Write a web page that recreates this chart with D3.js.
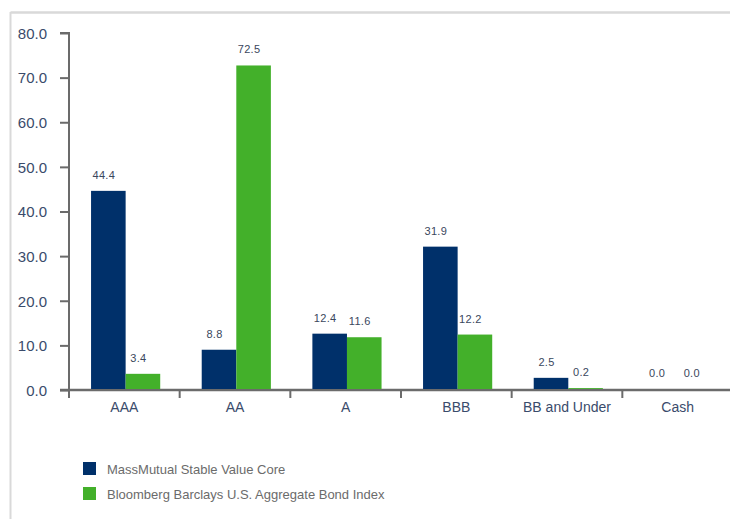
<!DOCTYPE html>
<html>
<head>
<meta charset="utf-8">
<script src="https://cdn.jsdelivr.net/npm/d3@7"></script>
<style>
  html, body { margin: 0; padding: 0; background: #fff; }
  svg { display: block; }
  text { font-family: "Liberation Sans", Arial, sans-serif; }
</style>
</head>
<body>
<svg id="chart" width="730" height="519"></svg>
<script>
const categories = ["AAA", "AA", "A", "BBB", "BB and Under", "Cash"];
const seriesNames = ["MassMutual Stable Value Core", "Bloomberg Barclays U.S. Aggregate Bond Index"];
const massMutual = [44.4, 8.8, 12.4, 31.9, 2.5, 0.0];
const bloomberg = [3.4, 72.5, 11.6, 12.2, 0.2, 0.0];
const yTicks = [0, 10, 20, 30, 40, 50, 60, 70, 80];
const colors = ["#00306a", "#43b02a"];

const svg = d3.select("#chart");
const W = 730, H = 519;

// frame
svg.append("line").attr("x1", 10.5).attr("x2", W).attr("y1", 12.5).attr("y2", 12.5)
  .attr("stroke", "#d9d9d9").attr("stroke-width", 2.5);
svg.append("line").attr("x1", 10.5).attr("x2", 10.5).attr("y1", 12).attr("y2", H)
  .attr("stroke", "#d9d9d9").attr("stroke-width", 2);

const x0 = 69, x1 = 733, yTop = 33, yBot = 390;
const x = d3.scaleBand().domain(categories).range([x0, x1]).padding(0);
const xs = d3.scaleBand().domain([0, 1]).range([0, x.bandwidth()]).paddingInner(0).paddingOuter(0.6);
const y = d3.scaleLinear().domain([0, 80]).range([yBot, yTop]);

const data = categories.map((c, i) => ({ cat: c, vals: [massMutual[i], bloomberg[i]] }));

// x axis
const xAxis = d3.axisBottom(x).tickSize(0).tickPadding(12);
const xa = svg.append("g").attr("transform", `translate(0,${yBot})`).call(xAxis);
xa.select(".domain").attr("stroke", "#6b6b6b").attr("stroke-width", 2.5).attr("d", `M${x0 - 9},0H${W}`);
xa.selectAll(".tick text").attr("font-size", 14).attr("fill", "#3a4b6b")
  .attr("font-family", "'Liberation Sans', Arial, sans-serif");
xa.selectAll("line.sep").data(categories).join("line").attr("class", "sep")
  .attr("x1", d => x(d)).attr("x2", d => x(d)).attr("y1", 0).attr("y2", 8)
  .attr("stroke", "#6b6b6b").attr("stroke-width", 2);

// y axis
const yAxis = d3.axisLeft(y).tickValues(yTicks).tickSize(9).tickPadding(13).tickFormat(d3.format(".1f"));
const ya = svg.append("g").attr("transform", `translate(${x0},0)`).call(yAxis);
ya.select(".domain").attr("stroke", "#6b6b6b").attr("stroke-width", 2).attr("d", `M-9,${yTop}H0V${yBot}`);
ya.selectAll(".tick line").attr("stroke", "#6b6b6b").attr("stroke-width", 2);
ya.selectAll(".tick text").attr("font-size", 15).attr("fill", "#3a4b6b")
  .attr("font-family", "'Liberation Sans', Arial, sans-serif").attr("dy", "0.35em");

// bars (drawn over the axis line)
const g = svg.append("g");
const groups = g.selectAll("g.grp").data(data).join("g")
  .attr("transform", d => `translate(${x(d.cat) + 1.3},0)`);
groups.selectAll("rect").data(d => d.vals.map((v, k) => ({ v, k }))).join("rect")
  .attr("x", d => xs(d.k))
  .attr("width", xs.bandwidth())
  .attr("y", d => y(d.v) - (d.v > 0 ? 1 : 0))
  .attr("height", d => d.v > 0 ? y(0) - y(d.v) : 0)
  .attr("fill", d => colors[d.k]);
groups.selectAll("text").data(d => d.vals.map((v, k) => ({ v, k }))).join("text")
  .attr("x", d => xs(d.k) + xs.bandwidth() / 2 - 4.5)
  .attr("y", d => y(d.v) - 13)
  .attr("text-anchor", "middle")
  .attr("font-size", 11)
  .attr("fill", "#3a475d")
  .attr("letter-spacing", 0.3)
  .text(d => d3.format(".1f")(d.v));

// legend
const leg = svg.append("g");
seriesNames.forEach((n, i) => {
  const ly = 462 + i * 25;
  leg.append("rect").attr("x", 83).attr("y", ly).attr("width", 13).attr("height", 13).attr("fill", colors[i]);
  leg.append("text").attr("x", 107).attr("y", ly + 12).attr("font-size", 13).attr("fill", "#6b6b6b").text(n);
});
</script>
</body>
</html>
